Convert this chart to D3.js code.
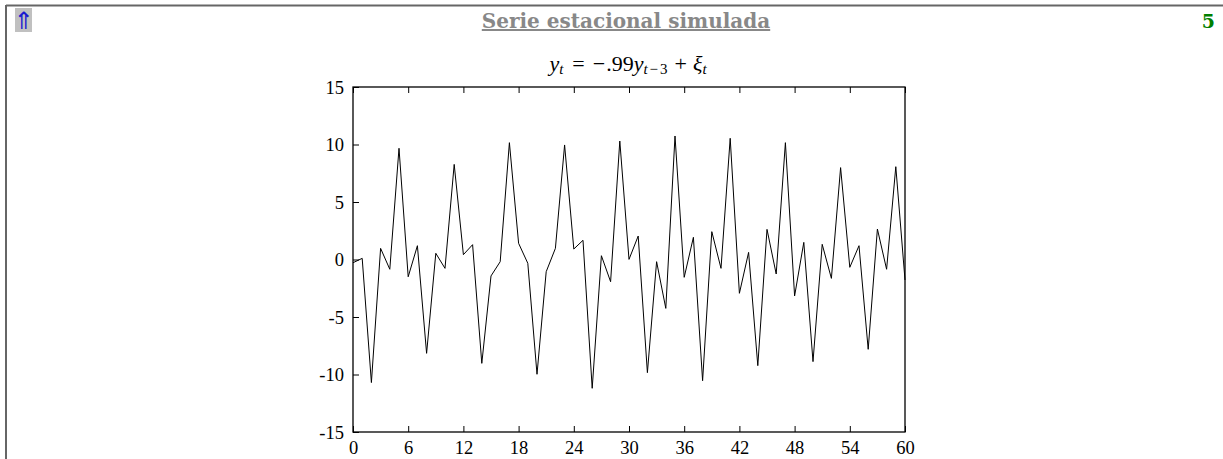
<!DOCTYPE html>
<html>
<head>
<meta charset="utf-8">
<script src="https://cdn.jsdelivr.net/npm/d3@7"></script>
<style>
  body { margin: 0; background: #fff; }
  svg { display: block; }
</style>
</head>
<body>
<svg id="chart" width="1223" height="459"></svg>
<script>
// Simulated seasonal series y_t = -.99 y_{t-3} + xi_t, t = 0..60
const values = [
  -0.28, 0.10, -10.7, 0.97, -0.85, 9.67, -1.5, 1.2, -8.16, 0.54,
  -0.77, 8.27, 0.42, 1.29, -9.03, -1.43, -0.19, 10.16, 1.41, -0.33,
  -9.98, -1.06, 0.97, 9.96, 0.91, 1.67, -11.2, 0.33, -1.93, 10.3,
  0.01, 2.04, -9.84, -0.19, -4.25, 10.74, -1.55, 1.93, -10.54, 2.42,
  -0.77, 10.54, -2.94, 0.62, -9.23, 2.62, -1.26, 10.16, -3.17, 1.49,
  -8.88, 1.32, -1.64, 7.99, -0.68, 1.2, -7.81, 2.65, -0.85, 8.07,
  -1.78
];
const xTicks = [0, 6, 12, 18, 24, 30, 36, 42, 48, 54, 60];
const yTicks = [-15, -10, -5, 0, 5, 10, 15];
const pageTitle = "Serie estacional simulada";
const pageNumber = "5";

const svg = d3.select("#chart");
const serif = "'Liberation Serif', 'DejaVu Serif', serif";
const wideSerif = "'DejaVu Serif', serif";

// Page frame (slide border)
svg.append("line")
    .attr("x1", 6).attr("x2", 1223).attr("y1", 5.5).attr("y2", 5.5)
    .attr("stroke", "#666").attr("stroke-width", 2);
svg.append("line")
    .attr("x1", 6).attr("x2", 6).attr("y1", 5).attr("y2", 459)
    .attr("stroke", "#666").attr("stroke-width", 2);

// Navigation arrow
svg.append("rect")
    .attr("x", 15).attr("y", 8).attr("width", 17).attr("height", 24)
    .attr("fill", "#c0c0c0");
svg.append("text")
    .attr("x", 23.5).attr("y", 29)
    .attr("text-anchor", "middle")
    .attr("font-family", "'DejaVu Sans', sans-serif")
    .attr("font-size", 24)
    .attr("fill", "#1a1ad0")
    .text("\u21D1");

// Title
svg.append("text")
    .attr("x", 626).attr("y", 28)
    .attr("text-anchor", "middle")
    .attr("font-family", wideSerif)
    .attr("font-weight", "bold")
    .attr("font-size", 20)
    .attr("fill", "#888")
    .attr("text-decoration", "underline")
    .text(pageTitle);

// Page number
svg.append("text")
    .attr("x", 1215).attr("y", 28)
    .attr("text-anchor", "end")
    .attr("font-family", wideSerif)
    .attr("font-weight", "bold")
    .attr("font-size", 19)
    .attr("fill", "#008000")
    .text(pageNumber);

// Plot area
const margin = { left: 353, right: 905, top: 87, bottom: 432 };

const x = d3.scaleLinear().domain([0, 60]).range([margin.left, margin.right]);
const y = d3.scaleLinear().domain([-15, 15]).range([margin.bottom, margin.top]);

// Formula
const formula = svg.append("text")
    .attr("x", 628).attr("y", 71)
    .attr("text-anchor", "middle")
    .attr("font-family", serif)
    .attr("font-size", 22)
    .attr("fill", "#000");
const sub = 15;
formula.append("tspan").attr("font-style", "italic").text("y");
formula.append("tspan").attr("font-style", "italic").attr("font-size", sub).attr("dy", 3).text("t");
formula.append("tspan").attr("dy", -3).attr("dx", 9).text("=");
formula.append("tspan").attr("dx", 8).text("\u2212");
formula.append("tspan").attr("dx", 1).text(".99");
formula.append("tspan").attr("font-style", "italic").text("y");
formula.append("tspan").attr("font-style", "italic").attr("font-size", sub).attr("dy", 3).text("t");
formula.append("tspan").attr("font-size", sub).attr("dx", 2).text("\u2212");
formula.append("tspan").attr("font-size", sub).attr("dx", 2).text("3");
formula.append("tspan").attr("dy", -3).attr("dx", 7).text("+");
formula.append("tspan").attr("dx", 6).attr("font-style", "italic").text("\u03BE");
formula.append("tspan").attr("font-style", "italic").attr("font-size", sub).attr("dy", 3).text("t");

// Axes
const fmt = d => String(d);
const xBottom = d3.axisBottom(x).tickValues(xTicks).tickFormat(fmt).tickSizeInner(-6).tickSizeOuter(0).tickPadding(9);
const xTop = d3.axisTop(x).tickValues(xTicks).tickSizeInner(-6).tickSizeOuter(0).tickFormat("");
const yLeft = d3.axisLeft(y).tickValues(yTicks).tickFormat(fmt).tickSizeInner(-6).tickSizeOuter(0).tickPadding(9);

const gx = svg.append("g").attr("transform", `translate(0,${margin.bottom})`).call(xBottom);
const gt = svg.append("g").attr("transform", `translate(0,${margin.top})`).call(xTop);
const gy = svg.append("g").attr("transform", `translate(${margin.left},0)`).call(yLeft);

[gx, gt, gy].forEach(g => {
    g.select(".domain").remove();
    g.selectAll("line").attr("stroke", "#000").attr("stroke-width", 1);
    g.selectAll("text")
        .attr("font-family", serif)
        .attr("font-size", 18.5)
        .attr("fill", "#000");
});
gy.selectAll("text").attr("dy", "0.35em");

// Frame border
svg.append("rect")
    .attr("x", margin.left).attr("y", margin.top)
    .attr("width", margin.right - margin.left)
    .attr("height", margin.bottom - margin.top)
    .attr("fill", "none")
    .attr("stroke", "#000")
    .attr("stroke-width", 1.3);

// Series line
const line = d3.line()
    .x((d, i) => x(i))
    .y(d => y(d));

svg.append("path")
    .datum(values)
    .attr("d", line)
    .attr("fill", "none")
    .attr("stroke", "#000")
    .attr("stroke-width", 1)
    .attr("stroke-linejoin", "miter");
</script>
</body>
</html>
